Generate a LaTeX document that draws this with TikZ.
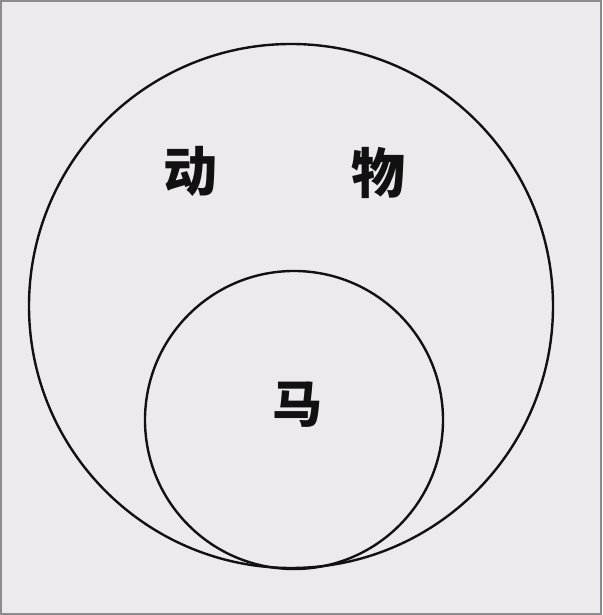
\documentclass[tikz,border=0pt]{standalone}
\usepackage{fontspec}
\newfontfamily\cjk{Noto Sans CJK SC}
\definecolor{paper}{HTML}{EDEAEE}
\definecolor{frame}{HTML}{8A8A90}
\definecolor{ink}{HTML}{111111}
\tikzset{
  setcircle/.style={circle, draw=ink, line width=2.4pt, inner sep=0pt},
  biglabel/.style={font=\cjk\bfseries\fontsize{54}{60}\selectfont, text=ink, inner sep=0pt},
}
\begin{document}
\begin{tikzpicture}[x=1pt,y=1pt]
  \fill[paper] (0,0) rectangle (602,615);
  \draw[frame, line width=2pt] (1,1) rectangle (601,614);
  \useasboundingbox (0,0) rectangle (602,615);
  \node[setcircle, minimum size=524pt] (animal) at (291,309) {};
  \node[setcircle, minimum size=298pt] (horse) at (294,195) {};
  \node[biglabel] (dong) at (190,444) {动};
  \node[biglabel] (wu) at (378,442) {物};
  \node[biglabel, font=\cjk\bfseries\fontsize{50}{56}\selectfont] (ma) at (297,210) {马};
\end{tikzpicture}
\end{document}
